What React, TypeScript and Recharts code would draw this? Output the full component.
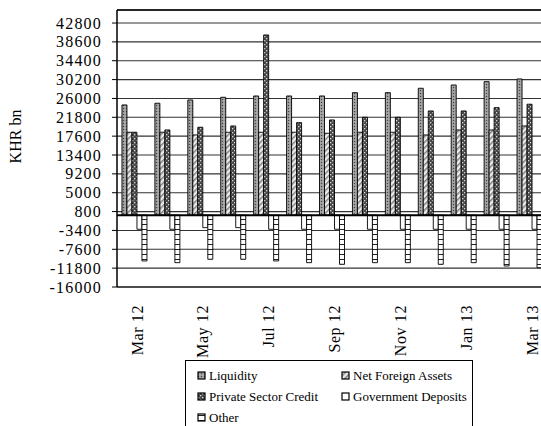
import {
  BarChart,
  Bar,
  XAxis,
  YAxis,
  CartesianGrid,
  ReferenceLine,
  Legend,
} from 'recharts'

const months = [
  'Mar 12', 'Apr 12', 'May 12', 'Jun 12', 'Jul 12', 'Aug 12', 'Sep 12',
  'Oct 12', 'Nov 12', 'Dec 12', 'Jan 13', 'Feb 13', 'Mar 13',
]
const liquidity = [24550, 24930, 25660, 26260, 26550, 26550, 26550, 27290, 27290, 28270, 29000, 29740, 30340]
const netForeignAssets = [18470, 18470, 17870, 18470, 18470, 18470, 18240, 18470, 18470, 17870, 18980, 18980, 19870]
const privateSectorCredit = [18470, 18980, 19580, 19870, 40140, 20610, 21210, 21810, 21810, 23210, 23210, 23950, 24710]
const governmentDeposits = [-3140, -3140, -2780, -2780, -3140, -3140, -3140, -3140, -3140, -3140, -3140, -3140, -3140]
const other = [-10200, -10580, -9820, -9820, -10200, -10580, -10940, -10580, -10580, -10940, -10580, -11320, -11700]

const yTicks = [-16000, -11800, -7600, -3400, 800, 5000, 9200, 13400, 17600, 21800, 26000, 30200, 34400, 38600, 42800]
const yMin = -16000
const yMax = 45700

const data = months.map((month, i) => ({
  month,
  liquidity: liquidity[i],
  nfa: netForeignAssets[i],
  psc: privateSectorCredit[i],
  gov: governmentDeposits[i],
  other: other[i],
}))

const series = [
  { key: 'liquidity', name: 'Liquidity', fill: 'url(#patLiq)' },
  { key: 'nfa', name: 'Net Foreign Assets', fill: 'url(#patNfa)' },
  { key: 'psc', name: 'Private Sector Credit', fill: 'url(#patPsc)' },
  { key: 'gov', name: 'Government Deposits', fill: '#fff' },
  { key: 'other', name: 'Other', fill: 'url(#patOther)' },
]

const serif = 'Liberation Serif, Times New Roman, serif'

function YTick({ x, y, payload }: any) {
  return (
    <text x={x} y={y} dy={5.5} textAnchor="end" fontSize={16} letterSpacing={1.2} style={{ fontFamily: serif }} fill="#000">
      {payload.value}
    </text>
  )
}

function XTick({ x, y, payload }: any) {
  const ax = x + 1.5
  const ay = y + 10
  return (
    <text
      x={ax}
      y={ay}
      dy="0.35em"
      transform={`rotate(-90 ${ax} ${ay})`}
      textAnchor="end"
      fontSize={16}
      letterSpacing={0.6}
      style={{ fontFamily: serif }}
      fill="#000"
    >
      {payload.value}
    </text>
  )
}

function LegendBox() {
  const pos = [
    [12, 15], [156, 15],
    [12, 36], [156, 36],
    [12, 57],
  ]
  return (
    <div style={{ width: 288, height: 78, border: '1px solid #000', boxSizing: 'border-box', background: '#fff' }}>
      <svg width={286} height={76} style={{ display: 'block' }}>
        {series.map((s, i) => (
          <g key={s.key}>
            <rect x={pos[i][0]} y={pos[i][1] - 4} width={7} height={7} fill={s.fill} stroke="#000" strokeWidth={1.2} />
            <text x={pos[i][0] + 11} y={pos[i][1] + 4} fontSize={13} style={{ fontFamily: serif }} fill="#000">
              {s.name}
            </text>
          </g>
        ))}
      </svg>
    </div>
  )
}

export default function App() {
  return (
    <div style={{ position: 'absolute', left: 0, top: 0, width: 541, height: 426, overflow: 'hidden', background: '#fff' }}>
      <BarChart
        width={547}
        height={426}
        data={data}
        margin={{ top: 10, right: 0, left: 0, bottom: 0 }}
        barCategoryGap="9%"
        barGap={0}
      >
        <defs>
          <pattern id="patLiq" width="3" height="3" patternUnits="userSpaceOnUse">
            <rect width="3" height="3" fill="#9a9a9a" />
            <rect x="0" y="0" width="1" height="1" fill="#444" />
            <rect x="1.5" y="1.5" width="1" height="1" fill="#d0d0d0" />
          </pattern>
          <pattern id="patNfa" width="4" height="4" patternUnits="userSpaceOnUse" patternTransform="rotate(45)">
            <rect width="4" height="4" fill="#ececec" />
            <rect x="0" y="0" width="1.5" height="4" fill="#808080" />
          </pattern>
          <pattern id="patPsc" width="4" height="4" patternUnits="userSpaceOnUse">
            <rect width="4" height="4" fill="#484848" />
            <rect x="0" y="0" width="1.3" height="1.3" fill="#d8d8d8" />
            <rect x="2" y="2" width="1.3" height="1.3" fill="#d8d8d8" />
          </pattern>
          <pattern id="patOther" width="6" height="5" patternUnits="userSpaceOnUse">
            <rect width="6" height="5" fill="#fff" />
            <rect x="0" y="4" width="6" height="1.2" fill="#222" />
          </pattern>
        </defs>
        <CartesianGrid vertical={false} stroke="#333" strokeWidth={1.1} />
        <XAxis
          dataKey="month"
          interval={1}
          tick={<XTick />}
          tickLine={false}
          axisLine={{ stroke: '#000', strokeWidth: 1.2 }}
          height={139}
          padding={{ left: 2, right: 0 }}
        />
        <YAxis
          domain={[yMin, yMax]}
          ticks={yTicks}
          interval={0}
          allowDataOverflow
          width={117}
          tick={<YTick />}
          tickSize={5}
          tickMargin={10}
          tickLine={{ stroke: '#000' }}
          axisLine={{ stroke: '#000', strokeWidth: 1.5 }}
          label={{
            content: ({ viewBox }: any) => (
              <text
                x={15}
                y={viewBox.y + viewBox.height / 2 - 12}
                transform={`rotate(-90 15 ${viewBox.y + viewBox.height / 2 - 12})`}
                textAnchor="middle"
                dy="0.35em"
                fontSize={16}
                style={{ fontFamily: serif }}
                fill="#000"
              >
                KHR bn
              </text>
            ),
          }}
        />
        <ReferenceLine y={yMax} stroke="#000" strokeWidth={1.5} />
        {series.map((s) => (
          <Bar
            key={s.key}
            dataKey={s.key}
            name={s.name}
            fill={s.fill}
            stroke="#000"
            strokeWidth={0.9}
            isAnimationActive={false}
          />
        ))}
        <ReferenceLine y={0} stroke="#000" strokeWidth={2} />
        <Legend
          layout="vertical"
          align="center"
          verticalAlign="middle"
          content={<LegendBox />}
          wrapperStyle={{ position: 'absolute', left: 185, top: 360, width: 288, height: 78 }}
        />
      </BarChart>
    </div>
  )
}
